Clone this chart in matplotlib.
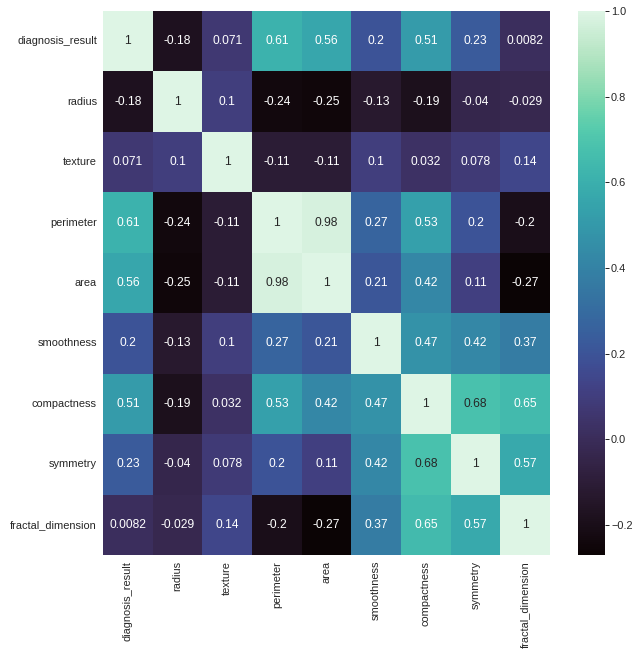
import matplotlib
matplotlib.use("Agg")
import matplotlib.pyplot as plt
import numpy as np
import pandas as pd
import seaborn as sns

# Correlation matrix
features = ["diagnosis_result", "radius", "texture", "perimeter", "area",
            "smoothness", "compactness", "symmetry", "fractal_dimension"]

diagnosis_result = [1, -0.18, 0.071, 0.61, 0.56, 0.2, 0.51, 0.23, 0.0082]
radius = [-0.18, 1, 0.1, -0.24, -0.25, -0.13, -0.19, -0.04, -0.029]
texture = [0.071, 0.1, 1, -0.11, -0.11, 0.1, 0.032, 0.078, 0.14]
perimeter = [0.61, -0.24, -0.11, 1, 0.98, 0.27, 0.53, 0.2, -0.2]
area = [0.56, -0.25, -0.11, 0.98, 1, 0.21, 0.42, 0.11, -0.27]
smoothness = [0.2, -0.13, 0.1, 0.27, 0.21, 1, 0.47, 0.42, 0.37]
compactness = [0.51, -0.19, 0.032, 0.53, 0.42, 0.47, 1, 0.68, 0.65]
symmetry = [0.23, -0.04, 0.078, 0.2, 0.11, 0.42, 0.68, 1, 0.57]
fractal_dimension = [0.0082, -0.029, 0.14, -0.2, -0.27, 0.37, 0.65, 0.57, 1]

corr = pd.DataFrame([diagnosis_result, radius, texture, perimeter, area,
                     smoothness, compactness, symmetry, fractal_dimension],
                    index=features, columns=features)

sns.set_theme()
plt.rcParams['font.family'] = ['Liberation Sans', 'DejaVu Sans']

W, H = 643, 658
fig = plt.figure(figsize=(W / 72, H / 72), dpi=72)
fig.patch.set_facecolor("white")

ax = fig.add_axes([103 / W, 1 - 555 / H, 447 / W, 544 / H])
cax = fig.add_axes([578 / W, 1 - 555 / H, 27 / W, 544 / H])

sns.heatmap(corr, annot=True, cmap="mako", ax=ax, cbar_ax=cax,
            annot_kws={"fontsize": 12})

ax.tick_params(axis="both", length=0, labelsize=11, colors="0.15", pad=6)
ax.set_xticklabels(features, rotation=90)
ax.set_yticklabels(features, rotation=0)

cax.tick_params(length=4, width=1, labelsize=11, colors="0.15", pad=2)

fig.savefig("out.png", dpi=72, facecolor="white")
